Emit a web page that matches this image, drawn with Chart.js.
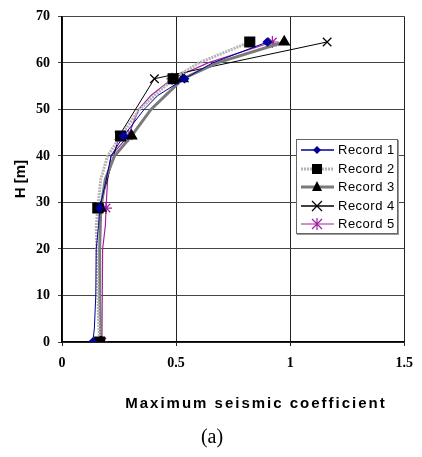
<!DOCTYPE html>
<html>
<head>
<meta charset="utf-8">
<script src="https://cdn.jsdelivr.net/npm/chart.js@4/dist/chart.umd.min.js"></script>
<style>
  html, body { margin: 0; padding: 0; background: #fff; }
  #wrap { position: relative; width: 422px; height: 457px; }
  #chart { position: absolute; left: 0; top: 0; }
  #xtitle { position: absolute; left: 0; width: 512px; top: 394px; text-align: center;
    font: bold 15px "Liberation Sans", Arial, sans-serif; letter-spacing: 2px; color: #000; }
  #sub { position: absolute; left: 0; width: 424px; top: 425px; text-align: center;
    font: 20px "Liberation Serif", "Times New Roman", serif; color: #000; }
  #legend { position: absolute; left: 296px; top: 139px; width: 102px; height: 95px;
    border: 1px solid #666; background: #fff; box-shadow: 1px 1px 0 #999; box-sizing: border-box; }
  #legend .row { position: absolute; left: 3px; height: 18px; font: 13px "Liberation Sans", Arial, sans-serif; }
  #legend svg { position: absolute; left: 0; top: 0; }
  #legend span { position: absolute; left: 38px; top: 1px; white-space: nowrap; letter-spacing: 0.5px; }
</style>
</head>
<body>
<div id="wrap">
  <canvas id="chart" width="422" height="457"></canvas>
  <div id="legend"></div>
  <div id="xtitle">Maximum seismic coefficient</div>
  <div id="sub">(a)</div>
</div>
<script>
// station heights where markers are drawn
const stations = [0, 28.8, 44.3, 56.6, 64.5];

const h1 = [0, 3, 10, 20, 25, 28.8, 34, 40, 44.3, 50, 53, 56.6, 60, 64.5];
const c1 = [0.135, 0.142, 0.148, 0.15, 0.16, 0.165, 0.19, 0.215, 0.27, 0.36, 0.42, 0.537, 0.66, 0.9];

const h2 = [0, 5, 15, 25, 28.8, 35, 40, 44.3, 50, 56.6, 60, 64.5];
const c2 = [0.165, 0.16, 0.155, 0.15, 0.157, 0.17, 0.2, 0.257, 0.34, 0.487, 0.6, 0.823];

const h3 = [0, 10, 20, 28.8, 35, 40, 44.3, 50, 56.6, 60, 64.5];
const c3 = [0.17, 0.165, 0.165, 0.17, 0.19, 0.23, 0.305, 0.39, 0.53, 0.68, 0.974];

const h4 = [0, 28.8, 44.3, 56.6, 64.5];
const c4 = [0.17, 0.165, 0.25, 0.405, 1.162];

const h5 = [0, 20, 25, 28.8, 35, 40, 44.3, 50, 53, 56.6, 60, 64.5];
const c5 = [0.175, 0.178, 0.19, 0.193, 0.2, 0.215, 0.29, 0.336, 0.39, 0.483, 0.64, 0.922];

const names = ['Record 1', 'Record 2', 'Record 3', 'Record 4', 'Record 5'];
const xTicks = [0, 0.5, 1, 1.5];

const pts = (c, h) => c.map((v, i) => ({ x: v, y: h[i] }));
const rad = (r) => (ctx) => (ctx.raw && stations.includes(ctx.raw.y) ? r : 0);

const styles = [
  { line: '#000099', width: 1, dash: [], pt: 'rectRot', r: 4, fill: '#000099', stroke: '#000099' },
  { line: '#b4b4b4', width: 3, dash: [2, 1], pt: 'rect', r: 7, fill: '#000', stroke: '#000' },
  { line: '#7a7a7a', width: 3, dash: [], pt: 'triangle', r: 6, fill: '#000', stroke: '#000' },
  { line: '#000', width: 1, dash: [], pt: 'crossRot', r: 6, fill: '#000', stroke: '#000' },
  { line: '#a020a0', width: 1.2, dash: [], pt: 'star', r: 6, fill: '#a020a0', stroke: '#a020a0' }
];
const series = [pts(c1, h1), pts(c2, h2), pts(c3, h3), pts(c4, h4), pts(c5, h5)];

new Chart(document.getElementById('chart'), {
  type: 'scatter',
  data: {
    datasets: series.map((d, i) => ({
      label: names[i],
      data: d,
      showLine: true,
      borderColor: styles[i].line,
      borderWidth: styles[i].width,
      borderDash: styles[i].dash,
      pointStyle: styles[i].pt,
      pointRadius: rad(styles[i].r),
      pointHoverRadius: 0,
      pointBackgroundColor: styles[i].fill,
      pointBorderColor: styles[i].stroke,
      pointBorderWidth: 1.2,
      tension: 0
    }))
  },
  options: {
    responsive: false,
    animation: false,
    layout: { padding: { left: 0, right: 12, top: 14, bottom: 85 } },
    plugins: { legend: { display: false }, tooltip: { enabled: false } },
    scales: {
      x: {
        type: 'linear', min: 0, max: 1.5,
        afterBuildTicks: (s) => { s.ticks = xTicks.map((v) => ({ value: v })); },
        afterFit: (s) => { s.height = 30; },
        grid: { color: '#222', lineWidth: 1, drawTicks: true, tickLength: 4 },
        border: { color: '#000', width: 1.5 },
        ticks: { color: '#000', padding: 9, maxRotation: 0,
          font: { family: '"Liberation Serif", "Times New Roman", serif', size: 14, weight: 'bold' },
          callback: (v) => String(v) }
      },
      y: {
        type: 'linear', min: 0, max: 70,
        ticks: { stepSize: 10, color: '#000', padding: 8,
          font: { family: '"Liberation Serif", "Times New Roman", serif', size: 14, weight: 'bold' } },
        afterFit: (s) => { s.width = 62; },
        grid: { color: '#444', lineWidth: 1, tickLength: 4 },
        border: { color: '#000', width: 1.5 },
        title: { display: true, text: 'H [m]', color: '#000', padding: { top: 12, bottom: 0 },
          font: { family: '"Liberation Sans", Arial, sans-serif', size: 15, weight: 'bold' } }
      }
    }
  }
});

// legend
const leg = document.getElementById('legend');
function markerSvg(s) {
  const cx = 17, cy = 9;
  if (s.pt === 'rectRot') return `<polygon points="${cx},${cy-4} ${cx+4},${cy} ${cx},${cy+4} ${cx-4},${cy}" fill="${s.fill}"/>`;
  if (s.pt === 'rect') return `<rect x="${cx-5}" y="${cy-5}" width="10" height="10" fill="#000"/>`;
  if (s.pt === 'triangle') return `<polygon points="${cx},${cy-6} ${cx+5},${cy+4} ${cx-5},${cy+4}" fill="#000"/>`;
  if (s.pt === 'crossRot') return `<path d="M${cx-5} ${cy-5}L${cx+5} ${cy+5}M${cx+5} ${cy-5}L${cx-5} ${cy+5}" stroke="#000" stroke-width="1.2"/>`;
  return `<path d="M${cx-5} ${cy-5}L${cx+5} ${cy+5}M${cx+5} ${cy-5}L${cx-5} ${cy+5}M${cx} ${cy-6}L${cx} ${cy+6}" stroke="${s.stroke}" stroke-width="1.2"/>`;
}
names.forEach((n, i) => {
  const s = styles[i];
  const row = document.createElement('div');
  row.className = 'row';
  row.style.top = (1 + i * 18.6) + 'px';
  row.innerHTML = `<svg width="36" height="18"><line x1="1" y1="9" x2="34" y2="9" stroke="${s.line}" stroke-width="${s.width + (s.width > 1 ? 0 : 0.3)}" ${s.dash.length ? 'stroke-dasharray="2 1"' : ''}/>${markerSvg(s)}</svg><span>${n}</span>`;
  leg.appendChild(row);
});
</script>
</body>
</html>
